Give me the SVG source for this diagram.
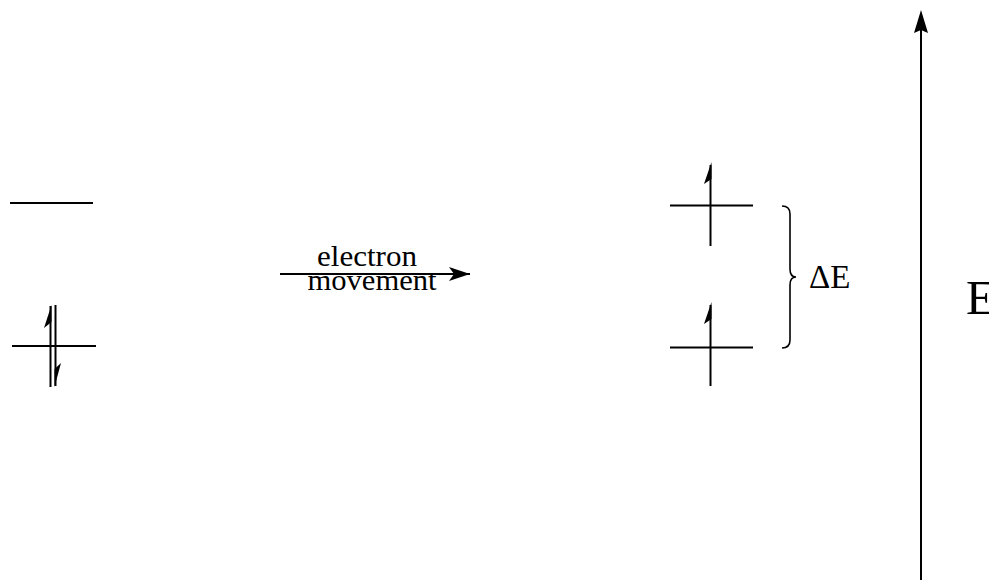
<svg xmlns="http://www.w3.org/2000/svg" width="989" height="580" viewBox="0 0 989 580">
<style>
.ln{stroke:#000;stroke-width:2;fill:none}
.hd{fill:#000;stroke:none}
.t{font-family:"Liberation Serif","Times New Roman",serif;fill:#000}
</style>
<defs>
<marker id="ah" markerWidth="22" markerHeight="14" refX="21" refY="7" orient="auto" markerUnits="userSpaceOnUse">
<path d="M0,0 L21,7 L0,14 L5,7 Z" fill="#000"/>
</marker>
</defs>
<rect width="989" height="580" fill="#fff"/>
<g id="left-levels">
<line class="ln" x1="10" y1="203" x2="93" y2="203"/>
<line class="ln" x1="12" y1="346" x2="96" y2="346"/>
<line class="ln" x1="50.5" y1="306" x2="50.5" y2="387"/>
<line class="ln" x1="55.5" y1="305" x2="55.5" y2="386"/>
<polygon class="hd" points="51.5,305 44,328 51.5,322"/>
<polygon class="hd" points="54.5,387 61,363 54.5,369"/>
</g>
<g id="reaction-arrow">
<line class="ln" x1="280" y1="274" x2="470" y2="274" marker-end="url(#ah)"/>
<text class="t" x="367" y="266" font-size="29" text-anchor="middle" textLength="100" lengthAdjust="spacingAndGlyphs">electron</text>
<text class="t" x="372" y="290" font-size="29" text-anchor="middle" textLength="129" lengthAdjust="spacingAndGlyphs">movement</text>
</g>
<g id="right-levels">
<line class="ln" x1="670" y1="205.5" x2="753" y2="205.5"/>
<line class="ln" x1="710.5" y1="165" x2="710.5" y2="246"/>
<polygon class="hd" points="711.5,162 704,184 711.5,179"/>
<line class="ln" x1="670" y1="347.5" x2="753" y2="347.5"/>
<line class="ln" x1="710.5" y1="305" x2="710.5" y2="386"/>
<polygon class="hd" points="711.5,302 704,324 711.5,319"/>
</g>
<g id="delta-e">
<path d="M782,206 Q790,206 790,214 L790,269 Q790,277 796,277 Q790,277 790,285 L790,340 Q790,348 782,348" stroke="#000" stroke-width="1.6" fill="none"/>
<text class="t" x="809" y="288" font-size="33">ΔE</text>
</g>
<g id="energy-axis">
<line class="ln" x1="921" y1="580" x2="921" y2="28"/>
<path class="hd" d="M921,10 L928,33 L921,30 L914,33 Z"/>
<text class="t" x="966" y="314" font-size="49">E</text>
</g>
</svg>
